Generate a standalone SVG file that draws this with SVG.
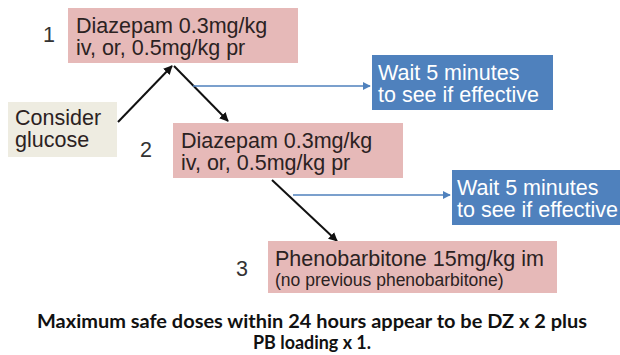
<svg xmlns="http://www.w3.org/2000/svg" width="620" height="355" viewBox="0 0 620 355">
<style>
.t{font-family:"Liberation Sans",Arial,sans-serif;font-size:21.5px;fill:#2b2222}
.w{font-family:"Liberation Sans",Arial,sans-serif;font-size:21.5px;fill:#ffffff}
.n{font-family:"Liberation Sans",Arial,sans-serif;font-size:21.5px;fill:#333333}
.pink{fill:#e6b9b8}
.blue{fill:#4f81bd}
.beige{fill:#eeece1}
.k{stroke:#111111;stroke-width:2;fill:none}
.b{stroke:#4f81bd;stroke-width:1.6;fill:none}
.foot{font-family:Lato,"Open Sans",sans-serif;font-weight:bold;font-size:18px;fill:#111111}
</style>
<defs>
<marker id="ak" viewBox="0 0 10 10" refX="9" refY="5" markerWidth="9" markerHeight="9" markerUnits="userSpaceOnUse" orient="auto">
<path d="M0,0 L10,5 L0,10 z" fill="#111111"/>
</marker>
<marker id="ab" viewBox="0 0 10 10" refX="9" refY="5" markerWidth="8" markerHeight="8" markerUnits="userSpaceOnUse" orient="auto">
<path d="M0,0 L10,5 L0,10 z" fill="#4f81bd"/>
</marker>
</defs>
<g id="connectors">
<line class="k" x1="118" y1="122" x2="172" y2="66" marker-end="url(#ak)"/>
<line class="k" x1="174" y1="66" x2="228" y2="121" marker-end="url(#ak)"/>
<line class="k" x1="272" y1="180" x2="337" y2="241" marker-end="url(#ak)"/>
<line class="b" x1="193" y1="86" x2="370" y2="86" marker-end="url(#ab)"/>
<line class="b" x1="293" y1="195" x2="450" y2="195" marker-end="url(#ab)"/>
</g>
<g id="num1"><text class="n" x="43" y="42">1</text></g>
<g id="num2"><text class="n" x="140" y="157">2</text></g>
<g id="num3"><text class="n" x="236" y="276">3</text></g>
<g id="step1">
<rect class="pink" x="68" y="8" width="230" height="55"/>
<text class="t" x="76" y="33">Diazepam 0.3mg/kg</text>
<text class="t" x="76" y="55">iv, or, 0.5mg/kg pr</text>
</g>
<g id="glucose">
<rect class="beige" x="8" y="102" width="109" height="55"/>
<text class="t" x="15" y="125">Consider</text>
<text class="t" x="15" y="147">glucose</text>
</g>
<g id="wait1">
<rect class="blue" x="372" y="55" width="181" height="55"/>
<text class="w" x="378" y="80">Wait 5 minutes</text>
<text class="w" x="378" y="102">to see if effective</text>
</g>
<g id="step2">
<rect class="pink" x="173" y="123" width="230" height="55"/>
<text class="t" x="181" y="148">Diazepam 0.3mg/kg</text>
<text class="t" x="181" y="170">iv, or, 0.5mg/kg pr</text>
</g>
<g id="wait2">
<rect class="blue" x="452" y="170" width="170" height="55"/>
<text class="w" x="457" y="195">Wait 5 minutes</text>
<text class="w" x="457" y="217">to see if effective</text>
</g>
<g id="step3">
<rect class="pink" x="268" y="241" width="289" height="52"/>
<text class="t" x="275" y="266">Phenobarbitone 15mg/kg im</text>
<text class="t" x="275" y="286" style="font-size:17.5px">(no previous phenobarbitone)</text>
</g>
<g id="footnote">
<text class="foot" x="312" y="328" text-anchor="middle" textLength="550" lengthAdjust="spacingAndGlyphs">Maximum safe doses within 24 hours appear to be DZ x 2 plus</text>
<text class="foot" x="312" y="349" text-anchor="middle" textLength="118" lengthAdjust="spacingAndGlyphs">PB loading x 1.</text>
</g>
</svg>
